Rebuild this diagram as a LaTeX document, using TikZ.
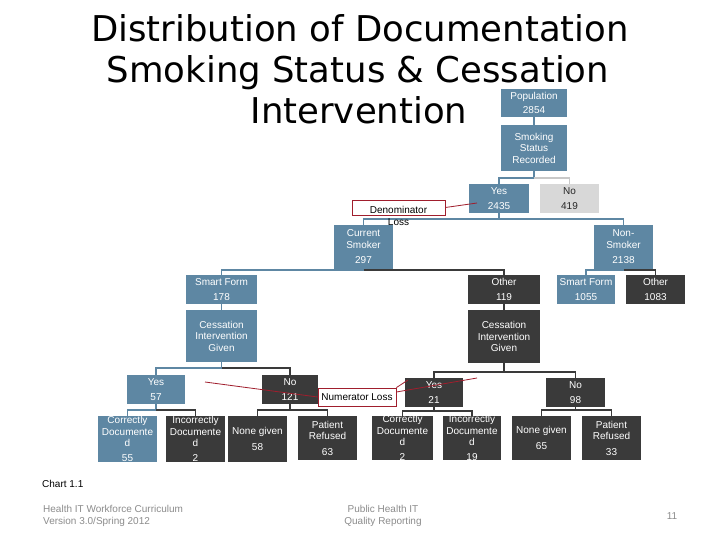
\documentclass[tikz,border=0pt]{standalone}
\usepackage{fontspec}
\setmainfont{Liberation Sans}
\newfontfamily\titlefont{DejaVu Sans}
\usetikzlibrary{calc}
\definecolor{sblue}{RGB}{94,135,163}
\definecolor{dgray}{RGB}{58,58,58}
\definecolor{lgray}{RGB}{216,216,216}
\definecolor{lline}{RGB}{200,200,200}
\definecolor{callred}{RGB}{160,30,45}
\definecolor{foot}{RGB}{140,140,140}
\begin{document}
\begin{tikzpicture}[x=1pt,y=-1pt,
  box/.style={inner sep=0pt, outer sep=0pt, align=center, text=white,
    font=\fontsize{10}{11.5}\selectfont},
  bluebox/.style={box, fill=sblue},
  darkbox/.style={box, fill=dgray},
  lightbox/.style={box, fill=lgray, text=black!85},
  conn/.style={line width=1.6pt},
  bconn/.style={conn, draw=sblue},
  dconn/.style={conn, draw=dgray},
  lconn/.style={conn, draw=lline},
  callbox/.style={draw=callred, fill=white, line width=0.8pt, inner sep=0pt,
    font=\fontsize{10}{11.5}\selectfont, text=black},
  calltext/.style={inner sep=0pt, align=center, font=\fontsize{10}{11.5}\selectfont, text=black},
  redline/.style={draw=callred, line width=0.8pt},
  titletext/.style={inner sep=0pt, font=\titlefont\fontsize{35.5}{41}\selectfont, text=black},
  foottext/.style={inner sep=0pt, align=center, font=\fontsize{10}{12}\selectfont, text=foot}
]
\useasboundingbox[fill=white] (0,0) rectangle (720,540);

% title
\node[titletext, anchor=base] (t1) at (360,42) {Distribution of Documentation};
\node[titletext, anchor=base] (t2) at (358,83) {Smoking Status \& Cessation};
\node[titletext, anchor=base] (t3) at (359,124) {Intervention};

% top boxes
\node[bluebox, minimum width=66pt, minimum height=28pt] (pop) at (534,103) {Population\\[2.5pt]2854};
\node[bluebox, minimum width=66pt, minimum height=46pt] (ssr) at (534,148) {Smoking\\Status\\Recorded};
\node[bluebox, minimum width=60pt, minimum height=29pt] (yes1) at (499,198.5) {Yes\\[4pt]2435};
\node[lightbox, minimum width=59pt, minimum height=29pt] (no1) at (569.5,198.5) {No\\[4pt]419};

\node[bluebox, minimum width=59pt, minimum height=44pt] (cur) at (363.5,247) {Current\\Smoker\\[4pt]297};
\node[bluebox, minimum width=59pt, minimum height=44pt] (non) at (623.5,247) {Non-\\Smoker\\[4pt]2138};

\node[bluebox, minimum width=71pt, minimum height=29pt] (sf1) at (221.5,289.5) {Smart Form\\[4pt]178};
\node[bluebox, minimum width=71pt, minimum height=52pt] (ci1) at (221.5,336) {Cessation\\Intervention\\Given};
\node[darkbox, minimum width=72pt, minimum height=29pt] (ot1) at (504,289.5) {Other\\[4pt]119};
\node[darkbox, minimum width=72pt, minimum height=53pt] (ci2) at (504,336.5) {Cessation\\Intervention\\Given};
\node[bluebox, minimum width=58pt, minimum height=29pt] (sf2) at (586,289.5) {Smart Form\\[4pt]1055};
\node[darkbox, minimum width=59pt, minimum height=29pt] (ot2) at (655.5,289.5) {Other\\[4pt]1083};

\node[bluebox, minimum width=58pt, minimum height=29pt] (yes2) at (156,389.5) {Yes\\[4pt]57};
\node[darkbox, minimum width=56pt, minimum height=29pt] (no2) at (290,389.5) {No\\[4pt]121};
\node[darkbox, minimum width=58pt, minimum height=29pt] (yes3) at (434,392.5) {Yes\\[4pt]21};
\node[darkbox, minimum width=59pt, minimum height=29pt] (no3) at (575.5,392.5) {No\\[4pt]98};

\node[bluebox, minimum width=59pt, minimum height=46pt] (cd1) at (127.5,439) {Correctly\\Documente\\d\\[3pt]55};
\node[darkbox, minimum width=59pt, minimum height=46pt] (id1) at (195.5,439) {Incorrectly\\Documente\\d\\[3pt]2};
\node[darkbox, minimum width=59pt, minimum height=46pt] (ng1) at (257.5,439) {None given\\[4pt]58};
\node[darkbox, minimum width=59pt, minimum height=44pt] (pr1) at (327.5,438) {Patient\\Refused\\[4pt]63};
\node[darkbox, minimum width=61pt, minimum height=44pt] (cd2) at (402.5,438) {Correctly\\Documente\\d\\[3pt]2};
\node[darkbox, minimum width=58pt, minimum height=44pt] (id2) at (472,438) {Incorrectly\\Documente\\d\\[3pt]19};
\node[darkbox, minimum width=59pt, minimum height=44pt] (ng2) at (541.5,438) {None given\\[4pt]65};
\node[darkbox, minimum width=59pt, minimum height=44pt] (pr2) at (611.5,438) {Patient\\Refused\\[4pt]33};

% connectors
\draw[bconn] (pop.south) -- (ssr.north);
\draw[bconn] (ssr.south) -- ++(0,7) -| (yes1.north);
\draw[lconn] (ssr.south) ++(0,7) -| (no1.north);
\draw[bconn] (yes1.south) -- ++(0,6) -| (cur.north);
\draw[bconn] (yes1.south) ++(0,6) -| (non.north);
\draw[bconn] (cur.south) -- ++(0,1) -| (sf1.north);
\draw[dconn] (cur.south) ++(0,1) -| (ot1.north);
\draw[bconn] (non.south) -- ++(0,1) -| (sf2.north);
\draw[dconn] (non.south) ++(0,1) -| (ot2.north);
\draw[bconn] (sf1.south) -- (ci1.north);
\draw[dconn] (ot1.south) -- (ci2.north);
\draw[bconn] (ci1.south) -- ++(0,6) -| (yes2.north);
\draw[dconn] (ci1.south) ++(0,6) -| (no2.north);
\draw[bconn] (yes2.south) -- ++(0,6) -| (cd1.north);
\draw[dconn] (yes2.south) ++(0,6) -| (id1.north);
\draw[dconn] (no2.south) -- ++(0,6) -| (ng1.north);
\draw[dconn] (no2.south) ++(0,6) -| (pr1.north);
\draw[dconn] (ci2.south) -- ++(0,9) -| (yes3.north);
\draw[dconn] (ci2.south) ++(0,9) -| (no3.north);
\draw[dconn] (yes3.south) -- ++(0,4) -| (cd2.north);
\draw[dconn] (yes3.south) ++(0,4) -| (id2.north);
\draw[dconn] (no3.south) -- ++(0,3) -| (ng2.north);
\draw[dconn] (no3.south) ++(0,3) -| (pr2.north);

% callouts
\node[callbox, minimum width=93pt, minimum height=15pt] (den) at (398.5,207.5) {};
\node[calltext] (dentext) at (398.5,216) {Denominator\\Loss};
\coordinate (dp) at (477,203);
\draw[redline] (den.east) -- (dp);

\coordinate (np1) at (205,382);
\coordinate (np2) at (477,378);
\coordinate (np3) at (408,380);
\node[callbox, minimum width=78pt, minimum height=18pt] (num) at (357,397) {Numerator Loss};
\draw[redline] (np1) -- (num.west);
\draw[redline] ($(num.east)+(0,-5)$) -- (np2);
\draw[redline] (num.north east) -- (np3);

% footer
\node[inner sep=0pt, anchor=west, font=\fontsize{10}{12}\selectfont, text=black] (chart) at (42,484) {Chart 1.1};
\node[foottext, align=left, anchor=north west] (f1) at (43,505) {Health IT Workforce Curriculum\\Version 3.0/Spring 2012};
\node[foottext, anchor=north] (f2) at (383,505) {Public Health IT\\Quality Reporting};
\node[foottext] (f3) at (672,516) {11};
\end{tikzpicture}
\end{document}
